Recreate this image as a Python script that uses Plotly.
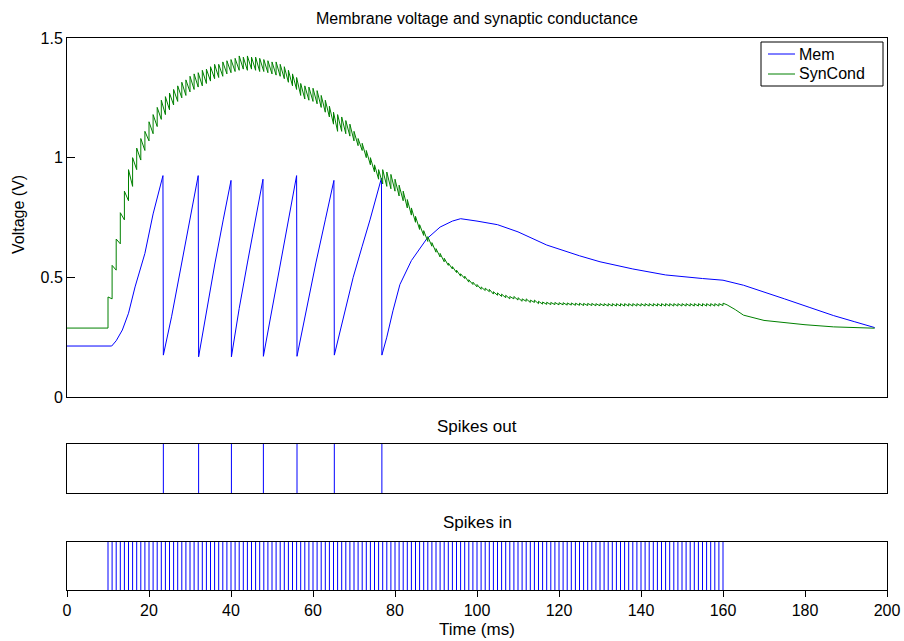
import plotly.graph_objects as go

# ---------------- data ----------------
# Membrane voltage trace (time in ms, voltage in V)
mem_t = [0, 10.9, 12, 13.5, 15, 16.6, 19, 21, 23.4, 23.5,
         25.5, 27.2, 29.6, 32.0, 32.1,
         34.1, 36.1, 38.1, 40.0, 40.1,
         42.0, 44.0, 46.0, 47.8, 47.9,
         50.0, 52.0, 54.0, 56.0, 56.1,
         58.4, 60.7, 63.0, 65.1, 65.2,
         67.0, 69.8, 72.0, 73.9, 76.7, 76.8,
         78.0, 79.5, 81.2, 84.0, 87.7, 91.0, 94.0, 96.0, 100, 105, 110,
         117, 125, 130, 138, 146, 155, 160, 165, 170, 175, 181, 187, 192, 197]
mem_v = [0.213, 0.213, 0.235, 0.28, 0.35, 0.46, 0.60, 0.765, 0.925, 0.175,
         0.335, 0.49, 0.71, 0.925, 0.168,
         0.37, 0.56, 0.74, 0.905, 0.168,
         0.37, 0.56, 0.745, 0.91, 0.17,
         0.37, 0.56, 0.75, 0.925, 0.17,
         0.37, 0.56, 0.74, 0.905, 0.175,
         0.30, 0.50, 0.63, 0.74, 0.915, 0.175,
         0.25, 0.36, 0.47, 0.57, 0.66, 0.71, 0.735, 0.745, 0.735, 0.72, 0.69,
         0.635, 0.59, 0.565, 0.535, 0.51, 0.495, 0.488, 0.467, 0.44, 0.41, 0.375, 0.34, 0.315, 0.29]

# Input spike times (ms)
spikes_in = [10, 11, 12, 13, 14, 15, 16, 17, 18, 19,
             20, 21, 22, 23, 24, 25, 26, 27, 28, 29,
             30, 31, 32, 33, 34, 35, 36, 37, 38, 39,
             40, 41, 42, 43, 44, 45, 46, 47, 48, 49,
             50, 51, 52, 53, 54, 55, 56, 57, 58, 59,
             60, 61, 62, 63, 64, 65, 66, 67, 68, 69,
             70, 71, 72, 73, 74, 75, 76, 77, 78, 79,
             80, 81, 82, 83, 84, 85, 86, 87, 88, 89,
             90, 91, 92, 93, 94, 95, 96, 97, 98, 99,
             100, 101, 102, 103, 104, 105, 106, 107, 108, 109,
             110, 111, 112, 113, 114, 115, 116, 117, 118, 119,
             120, 121, 122, 123, 124, 125, 126, 127, 128, 129,
             130, 131, 132, 133, 134, 135, 136, 137, 138, 139,
             140, 141, 142, 143, 144, 145, 146, 147, 148, 149,
             150, 151, 152, 153, 154, 155, 156, 157, 158, 159,
             160]

# Output spike times (ms)
spikes_out = [23.5, 32.1, 40.1, 47.9, 56.1, 65.2, 76.8]

# Synaptic conductance: value just before / just after each input spike
syn_before = [0.288, 0.41, 0.53, 0.64, 0.74, 0.82, 0.88, 0.95, 0.99, 1.03,
              1.07, 1.10, 1.13, 1.16, 1.18, 1.20, 1.22, 1.235, 1.25, 1.26,
              1.275, 1.285, 1.295, 1.30, 1.31, 1.32, 1.33, 1.335, 1.34, 1.35,
              1.355, 1.36, 1.365, 1.37, 1.365, 1.37, 1.365, 1.36, 1.36, 1.355,
              1.35, 1.345, 1.34, 1.33, 1.315, 1.30, 1.285, 1.26, 1.245, 1.24,
              1.235, 1.225, 1.21, 1.19, 1.17, 1.14, 1.11, 1.11, 1.10, 1.09,
              1.07, 1.05, 1.03, 1.00, 0.97, 0.94, 0.91, 0.89, 0.88, 0.87,
              0.86, 0.84, 0.82, 0.79, 0.76, 0.73, 0.70, 0.675, 0.65, 0.63,
              0.605, 0.585, 0.565, 0.55, 0.535, 0.52, 0.505, 0.495, 0.48, 0.47,
              0.46, 0.45, 0.445, 0.44, 0.43, 0.425, 0.42, 0.415, 0.41, 0.41,
              0.405, 0.40, 0.40, 0.395, 0.395, 0.39, 0.388, 0.387, 0.386, 0.386,
              0.385, 0.385, 0.384, 0.384, 0.383, 0.383, 0.382, 0.382, 0.382, 0.381,
              0.381, 0.381, 0.38, 0.38, 0.38, 0.38, 0.38, 0.38, 0.38, 0.38,
              0.38, 0.38, 0.38, 0.38, 0.38, 0.38, 0.38, 0.38, 0.38, 0.38,
              0.38, 0.38, 0.38, 0.38, 0.38, 0.38, 0.38, 0.38, 0.38, 0.38,
              0.382]
syn_after = [0.418, 0.55, 0.66, 0.77, 0.86, 0.95, 1.00, 1.04, 1.08, 1.11,
             1.15, 1.18, 1.21, 1.24, 1.255, 1.27, 1.285, 1.30, 1.315, 1.325,
             1.34, 1.35, 1.355, 1.365, 1.37, 1.38, 1.39, 1.39, 1.40, 1.405,
             1.41, 1.415, 1.425, 1.42, 1.425, 1.42, 1.42, 1.415, 1.41, 1.405,
             1.40, 1.40, 1.39, 1.38, 1.365, 1.35, 1.335, 1.31, 1.30, 1.295,
             1.29, 1.28, 1.26, 1.24, 1.215, 1.19, 1.18, 1.17, 1.155, 1.14,
             1.11, 1.08, 1.06, 1.03, 1.00, 0.97, 0.95, 0.95, 0.94, 0.93,
             0.91, 0.885, 0.86, 0.825, 0.79, 0.755, 0.72, 0.695, 0.67, 0.645,
             0.62, 0.60, 0.58, 0.56, 0.545, 0.53, 0.515, 0.505, 0.49, 0.48,
             0.47, 0.46, 0.455, 0.45, 0.44, 0.435, 0.43, 0.425, 0.42, 0.42,
             0.415, 0.41, 0.41, 0.405, 0.405, 0.40, 0.397, 0.396, 0.395, 0.395,
             0.394, 0.394, 0.393, 0.393, 0.392, 0.392, 0.391, 0.391, 0.391, 0.39,
             0.39, 0.39, 0.39, 0.39, 0.39, 0.39, 0.39, 0.39, 0.39, 0.39,
             0.39, 0.39, 0.39, 0.39, 0.39, 0.39, 0.39, 0.39, 0.39, 0.39,
             0.39, 0.39, 0.39, 0.39, 0.39, 0.39, 0.39, 0.39, 0.39, 0.39,
             0.392]
syn_start_t = [0]
syn_start_v = [0.288]
syn_tail_t = [161, 163, 165, 170, 175, 180, 187, 192, 197]
syn_tail_v = [0.385, 0.365, 0.342, 0.32, 0.31, 0.302, 0.293, 0.29, 0.2875]

series_names = ["Mem", "SynCond"]
y_ticks = [0, 0.5, 1, 1.5]
y_tick_labels = ["0", "0.5", "1", "1.5"]
x_ticks = [0, 20, 40, 60, 80, 100, 120, 140, 160, 180, 200]

# ---------------- build traces ----------------
syn_x = list(syn_start_t)
syn_y = list(syn_start_v)
for t, b, a in zip(spikes_in, syn_before, syn_after):
    syn_x += [t, t]
    syn_y += [b, a]
syn_x += syn_tail_t
syn_y += syn_tail_v


def raster(times):
    xs, ys = [], []
    for t in times:
        xs += [t, t, None]
        ys += [0, 1, None]
    return xs, ys


out_x, out_y = raster(spikes_out)
in_x, in_y = raster(spikes_in)

BLUE = "#0000ff"
GREEN = "#008000"
FONT = "Liberation Sans, Arial, Helvetica, sans-serif"

fig = go.Figure()
fig.add_trace(go.Scatter(x=mem_t, y=mem_v, mode="lines", name=series_names[0],
                         line=dict(color=BLUE, width=1), xaxis="x", yaxis="y",
                         showlegend=False))
fig.add_trace(go.Scatter(x=syn_x, y=syn_y, mode="lines", name=series_names[1],
                         line=dict(color=GREEN, width=1), xaxis="x", yaxis="y",
                         showlegend=False))
fig.add_trace(go.Scatter(x=out_x, y=out_y, mode="lines", showlegend=False,
                         line=dict(color=BLUE, width=1), xaxis="x2", yaxis="y2"))
fig.add_trace(go.Scatter(x=in_x, y=in_y, mode="lines", showlegend=False,
                         line=dict(color=BLUE, width=1), xaxis="x3", yaxis="y3"))

box = dict(showline=True, linecolor="black", linewidth=1, mirror=True,
           showgrid=False, zeroline=False, automargin=False)

# pixel -> paper helpers for the plot area (l=67, r=887, t=38, b=590)
def px(xp):
    return (xp - 67) / 820.0


def py(yp):
    return (590 - yp) / 552.0


# legend drawn as box + line samples + text
legend_shapes = [
    dict(type="rect", xref="paper", yref="paper", x0=px(761), x1=px(883),
         y0=py(86), y1=py(42), line=dict(color="black", width=1),
         fillcolor="white", layer="above"),
    dict(type="line", xref="paper", yref="paper", x0=px(768), x1=px(795),
         y0=py(54), y1=py(54), line=dict(color=BLUE, width=1), layer="above"),
    dict(type="line", xref="paper", yref="paper", x0=px(768), x1=px(795),
         y0=py(74), y1=py(74), line=dict(color=GREEN, width=1), layer="above"),
]
legend_texts = [
    dict(text=series_names[0], x=px(797), y=py(54), xref="paper", yref="paper",
         showarrow=False, xanchor="left", yanchor="middle", font=dict(size=16)),
    dict(text=series_names[1], x=px(797), y=py(74), xref="paper", yref="paper",
         showarrow=False, xanchor="left", yanchor="middle", font=dict(size=16)),
]

fig.update_layout(
    width=904, height=641,
    margin=dict(l=67, r=17, t=38, b=51),
    paper_bgcolor="white", plot_bgcolor="white",
    font=dict(family=FONT, size=16, color="black"),
    xaxis=dict(domain=[0, 1], range=[0, 200], showticklabels=False, ticks="",
               anchor="y", **box),
    yaxis=dict(domain=[py(397), 1], range=[0, 1.5], tickvals=y_ticks,
               ticktext=y_tick_labels, ticks="inside", ticklen=8,
               tickcolor="black", anchor="x", **box),
    xaxis2=dict(domain=[0, 1], range=[0, 200], showticklabels=False, ticks="",
                anchor="y2", **box),
    yaxis2=dict(domain=[py(493), py(444)], range=[0, 1], showticklabels=False,
                ticks="", anchor="x2", **box),
    xaxis3=dict(domain=[0, 1], range=[0, 200], tickvals=x_ticks,
                ticks="outside", ticklen=6, tickcolor="black", anchor="y3",
                tickfont=dict(size=16), **box),
    yaxis3=dict(domain=[0, py(541.7)], range=[0, 1], showticklabels=False,
                ticks="", anchor="x3", **box),
    showlegend=False,
    shapes=legend_shapes,
    annotations=[
        dict(text="Membrane voltage and synaptic conductance", x=0.5, y=py(18),
             xref="paper", yref="paper", showarrow=False, xanchor="center",
             yanchor="middle", font=dict(size=16)),
        dict(text="Spikes out", x=0.5, y=py(426), xref="paper", yref="paper",
             showarrow=False, xanchor="center", yanchor="middle", font=dict(size=17)),
        dict(text="Spikes in", x=0.5, y=py(522), xref="paper", yref="paper",
             showarrow=False, xanchor="center", yanchor="middle", font=dict(size=17)),
        dict(text="Time (ms)", x=0.5, y=py(629), xref="paper", yref="paper",
             showarrow=False, xanchor="center", yanchor="middle", font=dict(size=17)),
        dict(text="Voltage (V)", x=px(18), y=py(215), xref="paper", yref="paper",
             showarrow=False, xanchor="center", yanchor="middle", textangle=-90,
             font=dict(size=16)),
    ] + legend_texts,
)

fig.write_html("out.html")
